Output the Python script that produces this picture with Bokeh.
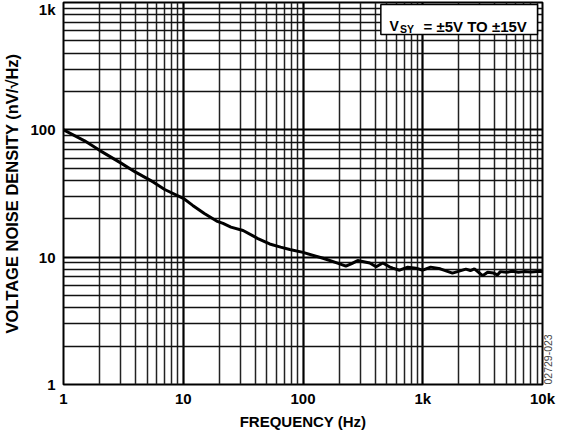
import math
from bokeh.plotting import figure
from bokeh.models import FixedTicker, Label, BoxAnnotation, LinearAxis
from bokeh.embed import file_html
from bokeh.resources import INLINE

# ---- data ----
freq_hz = [1, 1.5, 2, 3, 4, 5.6, 7, 10, 12, 15, 19, 21.5, 25, 31.6, 42, 52.7,
           65, 77.5, 100, 147, 200, 228, 255, 286, 361, 408, 464, 527, 562, 640,
           750, 877, 1000, 1165, 1400, 1770, 2290, 2500, 2700, 3160, 3480, 3900,
           4200, 4450, 5000, 5600, 6300, 7000, 8000, 9000, 10000]
noise_nv = [100, 82, 69, 55, 46.5, 39, 34, 29, 25.5, 22, 19.2, 18.4, 17.2, 16.2,
            14.0, 12.7, 12.0, 11.5, 10.9, 9.8, 8.9, 8.5, 8.9, 9.4, 9.0, 8.4, 9.0,
            8.4, 8.2, 7.9, 8.35, 8.2, 7.9, 8.35, 8.1, 7.5, 8.05, 7.85, 8.1, 7.15,
            7.6, 7.5, 7.25, 7.7, 7.6, 7.75, 7.6, 7.7, 7.65, 7.7, 7.7]

x_ticks = [1, 10, 100, 1000, 10000]
x_tick_labels = ["1", "10", "100", "1k", "10k"]
y_ticks = [1, 10, 100, 1000]
y_tick_labels = ["1", "10", "100", "1k"]
x_title = "FREQUENCY (Hz)"
y_title = "VOLTAGE NOISE DENSITY (nV/\u221aHz)"
legend_main = "V"
legend_sub = "SY"
legend_rest = "= \u00b15V TO \u00b115V"
figure_code = "02729-023"

FONT = "Liberation Sans"

x_minor = [k * 10 ** d for d in range(4) for k in range(2, 10)]
y_minor = [k * 10 ** d for d in range(3) for k in range(2, 10)]

p = figure(width=561, height=432, x_axis_type="log", y_axis_type="log",
           x_range=(1, 10000), y_range=(1, 1000),
           output_backend="svg", toolbar_location=None,
           min_border_left=62, min_border_right=19,
           min_border_top=2, min_border_bottom=48)

p.background_fill_color = "white"
p.border_fill_color = "white"
p.outline_line_color = "black"
p.outline_line_width = 2
p.outline_line_alpha = 1

p.xaxis.ticker = FixedTicker(ticks=x_ticks, minor_ticks=x_minor)
p.yaxis.ticker = FixedTicker(ticks=y_ticks, minor_ticks=y_minor)
p.xaxis.major_label_overrides = {t: s for t, s in zip(x_ticks, x_tick_labels)}
p.yaxis.major_label_overrides = {t: s for t, s in zip(y_ticks, y_tick_labels)}

for ax in (p.xaxis, p.yaxis):
    ax.axis_line_color = None
    ax.major_tick_line_color = None
    ax.minor_tick_line_color = None
    ax.major_tick_out = 0
    ax.minor_tick_out = 0
    ax.major_label_text_font = FONT
    ax.major_label_text_font_style = "bold"
    ax.major_label_text_font_size = "15px"
    ax.major_label_text_color = "black"
    ax.axis_label_text_font = FONT
    ax.axis_label_text_font_style = "bold"
    ax.axis_label_text_color = "black"

p.xaxis.major_label_standoff = 5
p.yaxis.major_label_standoff = 8
p.xaxis.axis_label = x_title
p.yaxis.axis_label = y_title
p.xaxis.axis_label_text_font_size = "15px"
p.yaxis.axis_label_text_font_size = "16.5px"
p.xaxis.axis_label_standoff = 3
p.yaxis.axis_label_standoff = 6

# right-hand figure code, drawn as a single rotated tick label of a right axis
code_pos = [1]
code_axis = LinearAxis(ticker=FixedTicker(ticks=code_pos, minor_ticks=[]),
                       major_label_overrides={code_pos[0]: figure_code},
                       major_label_orientation=math.pi / 2,
                       axis_line_color=None, major_tick_line_color=None,
                       minor_tick_line_color=None, major_tick_out=0, minor_tick_out=0,
                       major_label_standoff=5,
                       major_label_text_font=FONT, major_label_text_font_size="10.5px",
                       major_label_text_font_style="normal",
                       major_label_text_color="#444444")
p.add_layout(code_axis, "right")

p.xgrid.grid_line_color = "black"
p.xgrid.grid_line_width = 2.2
p.xgrid.minor_grid_line_color = "#222222"
p.xgrid.minor_grid_line_width = 1.5
p.ygrid.grid_line_color = "black"
p.ygrid.grid_line_width = 2
p.ygrid.minor_grid_line_color = "#111111"
p.ygrid.minor_grid_line_width = 1.6

p.line(freq_hz, noise_nv, line_width=3, color="black")

# legend box (positions from frame geometry: 120 px/decade in x, ~127 px/decade in y)
def fx(px_from_left):
    return 10 ** (px_from_left / 120.0)

def fy(px_from_bottom):
    return 10 ** (px_from_bottom / 127.33)

box = BoxAnnotation(left=fx(318), right=fx(475), top=fy(380), bottom=fy(350),
                    fill_color="white", fill_alpha=1.0,
                    line_color="black", line_width=1.5, line_alpha=1.0)
p.add_layout(box)

p.add_layout(Label(x=10000, y=1000, x_offset=-153, y_offset=-23.5, text=legend_main,
                   text_font=FONT, text_font_style="bold", text_font_size="14px",
                   text_align="left", text_baseline="alphabetic", text_color="black"))
p.add_layout(Label(x=10000, y=1000, x_offset=-142.5, y_offset=-26, text=legend_sub,
                   text_font=FONT, text_font_style="bold", text_font_size="10.5px",
                   text_align="left", text_baseline="alphabetic", text_color="black"))
p.add_layout(Label(x=10000, y=1000, x_offset=-119, y_offset=-23.5, text=legend_rest,
                   text_font=FONT, text_font_style="bold", text_font_size="15px",
                   text_align="left", text_baseline="alphabetic", text_color="black"))

open("out.html", "w").write(file_html(p, INLINE))
